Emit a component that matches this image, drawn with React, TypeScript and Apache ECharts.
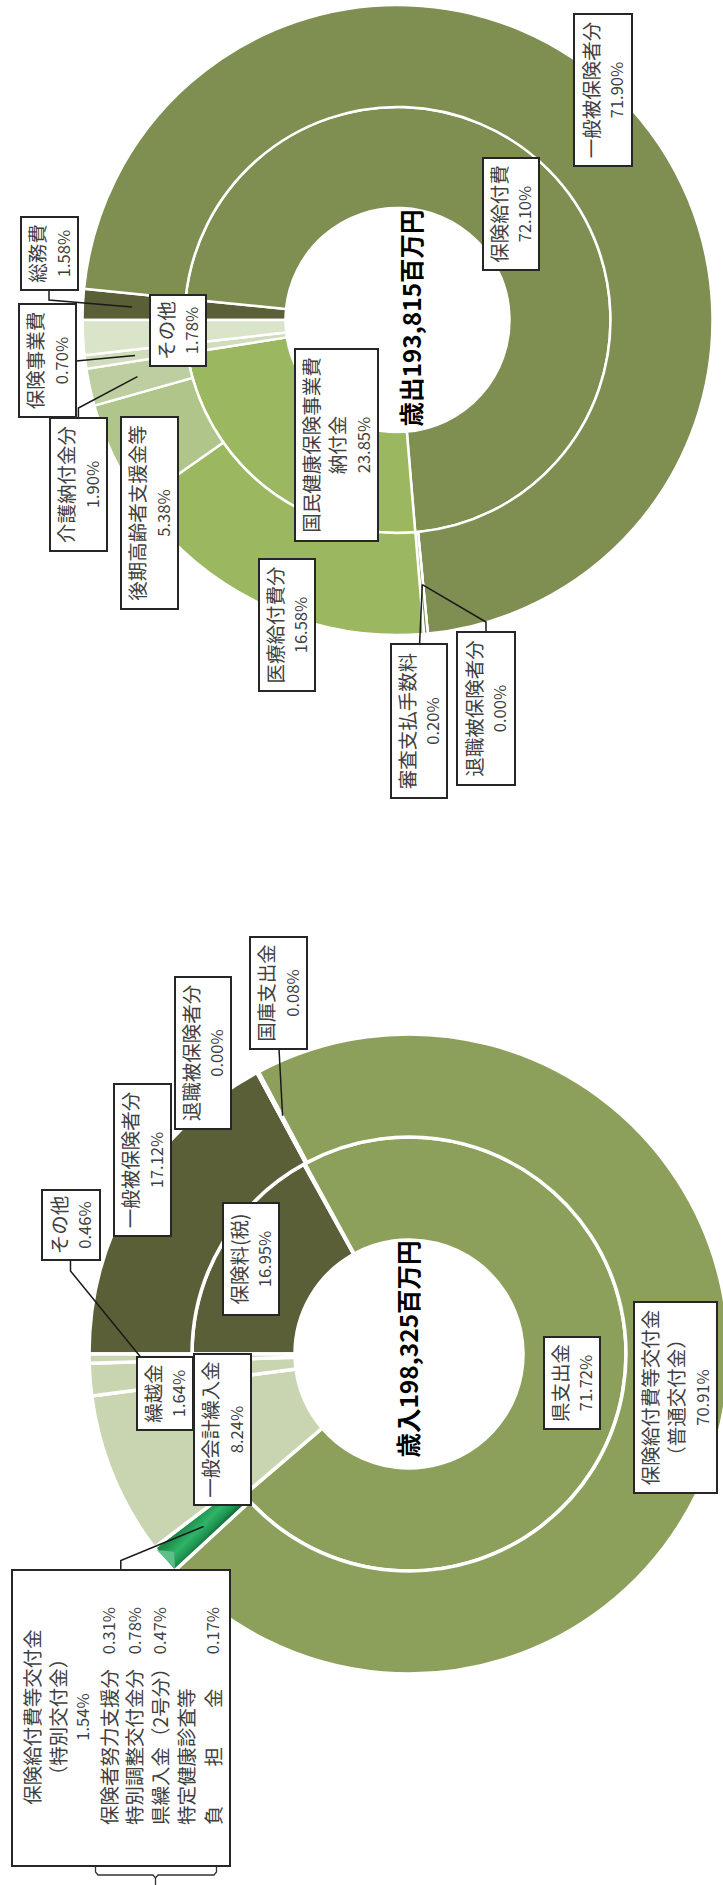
import React, { useEffect, useRef } from "react";
import * as echarts from "echarts";

// ---- expenditure (top ring chart)
const expenseTitle = "歳出193,815百万円";
const expenseInnerNames = ["総務費", "保険給付費", "国民健康保険事業費納付金", "保険事業費", "その他"];
const expenseInnerValues = [1.58, 72.1, 23.85, 0.7, 1.78];
const expenseInnerColors = ["#5a5f37", "#7f8e51", "#9bb75f", "#d0dcbb", "#d9e4c9"];
const expenseOuterNames = ["総務費", "一般被保険者分", "退職被保険者分", "審査支払手数料", "医療給付費分", "後期高齢者支援金等", "介護納付金分", "保険事業費", "その他"];
const expenseOuterValues = [1.58, 71.9, 0.0, 0.2, 16.58, 5.38, 1.9, 0.7, 1.78];
const expenseOuterColors = ["#5a5f37", "#7f8e51", "#7f8e51", "#7f8e51", "#9bb75f", "#afc589", "#bdcfa0", "#d0dcbb", "#d9e4c9"];

// ---- revenue (bottom ring chart)
const revenueTitle = "歳入198,325百万円";
const revenueInnerNames = ["保険料(税)", "国庫支出金", "県支出金", "一般会計繰入金", "繰越金", "その他"];
const revenueInnerValues = [16.95, 0.08, 71.72, 9.15, 1.64, 0.46];
const revenueInnerColors = ["#5a5f37", "#8da05b", "#8da05b", "#c8d5b0", "#c8d5b0", "#c8d5b0"];
const revenueOuterNames = ["一般被保険者分", "退職被保険者分", "国庫支出金", "保険給付費等交付金（普通交付金）", "保険給付費等交付金（特別交付金）", "一般会計繰入金", "繰越金", "その他"];
const revenueOuterValues = [17.12, 0.0, 0.08, 70.91, 1.54, 8.24, 1.64, 0.46];
const revenueOuterColors = ["#5a5f37", "#5a5f37", "#8da05b", "#8da05b", "GREEN", "#c8d5b0", "#c8d5b0", "#c8d5b0"];

const pct = (v: number) => `${v.toFixed(2)}%`;

// ---- callout boxes: [x0, y0, x1, y1] in page pixels, then text lines
type Box = { b: number[]; lines: string[] };
const expenseBoxes: Box[] = [
  { b: [574, 14, 632, 166], lines: ["一般被保険者分", pct(71.9)] },
  { b: [483, 158, 539, 270], lines: ["保険給付費", pct(72.1)] },
  { b: [21, 217, 78, 290], lines: ["総務費", pct(1.58)] },
  { b: [19, 304, 76, 417], lines: ["保険事業費", pct(0.7)] },
  { b: [50, 418, 107, 551], lines: ["介護納付金分", pct(1.9)] },
  { b: [121, 417, 178, 609], lines: ["後期高齢者支援金等", pct(5.38)] },
  { b: [150, 295, 206, 366], lines: ["その他", pct(1.78)] },
  { b: [295, 349, 378, 541], lines: ["国民健康保険事業費", "納付金", pct(23.85)] },
  { b: [259, 559, 315, 691], lines: ["医療給付費分", pct(16.58)] },
  { b: [391, 644, 447, 798], lines: ["審査支払手数料", pct(0.2)] },
  { b: [457, 632, 515, 785], lines: ["退職被保険者分", pct(0)] },
];
const revenueBoxes: Box[] = [
  { b: [250, 937, 307, 1049], lines: ["国庫支出金", pct(0.08)] },
  { b: [175, 977, 231, 1129], lines: ["退職被保険者分", pct(0)] },
  { b: [114, 1084, 171, 1236], lines: ["一般被保険者分", pct(17.12)] },
  { b: [42, 1190, 100, 1260], lines: ["その他", pct(0.46)] },
  { b: [223, 1203, 279, 1315], lines: ["保険料(税)", pct(16.95)] },
  { b: [137, 1357, 193, 1430], lines: ["繰越金", pct(1.64)] },
  { b: [194, 1354, 251, 1505], lines: ["一般会計繰入金", pct(8.24)] },
  { b: [544, 1337, 600, 1429], lines: ["県支出金", pct(71.72)] },
  { b: [634, 1302, 717, 1493], lines: ["保険給付費等交付金", "（普通交付金）", pct(70.91)] },
];
const leaders: number[][][] = [
  [[49, 290], [49, 300], [132, 307]],
  [[76, 361], [135, 355.6]],
  [[78.4, 418], [78.4, 408], [137.4, 376.6]],
  [[419.6, 644], [422.3, 584.7]],
  [[486, 632], [486, 622], [422.3, 584.7]],
  [[279, 1049], [282.6, 1115.7]],
  [[70.5, 1260], [70.5, 1271], [140.6, 1357]],
  [[120.8, 1570], [120.8, 1560.5], [203.5, 1526.5]],
];
const detailBox = [12, 1570, 230, 1866];
const detailCentered: [string, number, number][] = [
  ["保険給付費等交付金", 31.5, 1717],
  ["（特別交付金）", 57.5, 1717],
  [pct(1.54), 82, 1717],
];
const detailRows: [string, string, number][] = [
  ["保険者努力支援分", pct(0.31), 108],
  ["特別調整交付金分", pct(0.78), 133.5],
  ["県繰入金（2号分）", pct(0.47), 159],
  ["特定健康診査等", "", 185.5],
  ["負　　担　　金", pct(0.17), 212],
];

const FONT = '"Noto Sans CJK JP", "Noto Sans", sans-serif';
const TEXT = "#404040";
const R90 = Math.PI / 2;
const LINE = 26;
const fontFor = (t: string) => (t.endsWith("%") ? `16.5px ${FONT}` : `19.5px ${FONT}`);

function slices(names: string[], values: number[], colors: string[], green: any) {
  return names.map((name, i) => ({
    name,
    value: values[i],
    itemStyle: { color: colors[i] === "GREEN" ? green : colors[i] },
  }));
}

function rotatedText(t: string, x: number, y: number, align: string) {
  return {
    type: "text",
    z: 21,
    x,
    y,
    rotation: R90,
    style: { text: t, font: fontFor(t), fill: TEXT, align, verticalAlign: "middle" },
  };
}

function boxGraphics(boxes: Box[]) {
  const out: any[] = [];
  boxes.forEach(({ b, lines }) => {
    out.push({
      type: "rect",
      z: 20,
      shape: { x: b[0], y: b[1], width: b[2] - b[0], height: b[3] - b[1] },
      style: { fill: "#fff", stroke: "#262626", lineWidth: 2 },
    });
    const cx = (b[0] + b[2]) / 2;
    const cy = (b[1] + b[3]) / 2;
    lines.forEach((t, i) => {
      out.push(rotatedText(t, cx + (i - (lines.length - 1) / 2) * LINE, cy, "center"));
    });
  });
  return out;
}

export default function App() {
  const ref = useRef<HTMLDivElement>(null);
  useEffect(() => {
    document.body.style.margin = "0";
    const chart = echarts.init(ref.current!, undefined, { renderer: "svg" });
    const green = new echarts.graphic.LinearGradient(
      158, 1552, 176, 1570,
      [
        { offset: 0, color: "#1c8a49" },
        { offset: 0.5, color: "#2fb468" },
        { offset: 0.85, color: "#1e9150" },
        { offset: 1, color: "#147238" },
      ],
      true
    );
    const ring = (center: number[], radius: number[], data: any[], border: number) => ({
      type: "pie",
      center,
      radius,
      startAngle: 180,
      clockwise: true,
      silent: true,
      label: { show: false },
      labelLine: { show: false },
      itemStyle: { borderColor: "#fff", borderWidth: border },
      data,
    });
    const graphics: any[] = [
      ...leaders.map((pts) => ({
        type: "polyline",
        z: 19,
        shape: { points: pts },
        style: { stroke: "#1a1a1a", lineWidth: 1.5, fill: "none" },
      })),
      {
        type: "polygon",
        z: 10,
        shape: { points: [[156.7, 1550], [175, 1568.3], [174, 1551.7]] },
        style: { fill: "#5cc088" },
      },
      ...boxGraphics(expenseBoxes),
      ...boxGraphics(revenueBoxes),
      {
        type: "rect",
        z: 20,
        shape: { x: detailBox[0], y: detailBox[1], width: detailBox[2] - detailBox[0], height: detailBox[3] - detailBox[1] },
        style: { fill: "#fff", stroke: "#262626", lineWidth: 2 },
      },
      ...detailCentered.map(([t, x, y]) => rotatedText(t, x, y, "center")),
      ...detailRows.map(([t, , x]) => rotatedText(t, x, 1825, "left")),
      ...detailRows.filter((r) => r[1]).map(([, p, x]) => rotatedText(p, x, 1607, "right")),
      {
        type: "polyline",
        z: 19,
        shape: {
          points: [[95.5, 1866], [95.5, 1872], [98, 1875], [153, 1875], [155.5, 1878], [158, 1875], [214, 1875], [216.5, 1872], [216.5, 1866]],
        },
        style: { stroke: "#333", lineWidth: 1.3, fill: "none" },
      },
      {
        type: "line",
        z: 19,
        shape: { x1: 155.5, y1: 1878, x2: 155.5, y2: 1885 },
        style: { stroke: "#333", lineWidth: 1.3 },
      },
      ...[
        [expenseTitle, 410.5, 318],
        [revenueTitle, 407, 1349],
      ].map(([t, x, y]) => ({
        type: "text",
        z: 25,
        x,
        y,
        rotation: R90,
        style: {
          text: t,
          font: `bold 24.5px ${FONT}`,
          fill: "#000",
          align: "center",
          verticalAlign: "middle",
        },
      })),
    ];
    chart.setOption({
      animation: false,
      backgroundColor: "#fff",
      series: [
        ring([397.5, 320], [112, 213], slices(expenseInnerNames, expenseInnerValues, expenseInnerColors, green), 2.5),
        ring([397.5, 320], [213, 315], slices(expenseOuterNames, expenseOuterValues, expenseOuterColors, green), 2.5),
        ring([409, 1354], [114, 217], slices(revenueInnerNames, revenueInnerValues, revenueInnerColors, green), 3.5),
        ring([409, 1354], [217, 320], slices(revenueOuterNames, revenueOuterValues, revenueOuterColors, green), 3.5),
      ],
      graphic: { elements: graphics },
    });
    return () => chart.dispose();
  }, []);
  return <div ref={ref} style={{ position: "absolute", left: 0, top: 0, width: 723, height: 1885, overflow: "hidden" }} />;
}
